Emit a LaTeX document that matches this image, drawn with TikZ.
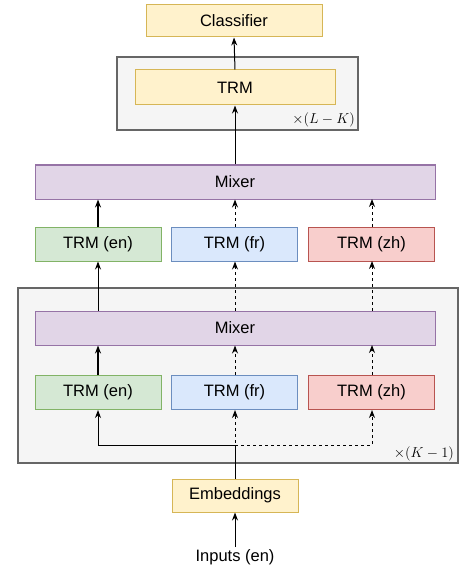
\documentclass[tikz,border=0pt]{standalone}
\usepackage{fontspec}
\setmainfont{Liberation Sans}
\usetikzlibrary{arrows.meta}
\definecolor{yelF}{HTML}{FFF2CC}\definecolor{yelD}{HTML}{D6B656}
\definecolor{grnF}{HTML}{D5E8D4}\definecolor{grnD}{HTML}{82B366}
\definecolor{bluF}{HTML}{DAE8FC}\definecolor{bluD}{HTML}{6C8EBF}
\definecolor{redF}{HTML}{F8CECC}\definecolor{redD}{HTML}{B85450}
\definecolor{purF}{HTML}{E1D5E7}\definecolor{purD}{HTML}{9673A6}
\definecolor{gryF}{HTML}{F5F5F5}\definecolor{gryD}{HTML}{666666}
\begin{document}
\begin{tikzpicture}[x=1pt,y=-1pt,
  box/.style={draw, line width=1pt, inner sep=0pt, font=\fontsize{16.5}{20}\selectfont},
  yel/.style={box, fill=yelF, draw=yelD},
  grn/.style={box, fill=grnF, draw=grnD, minimum width=126, minimum height=34},
  blu/.style={box, fill=bluF, draw=bluD, minimum width=126, minimum height=34},
  red/.style={box, fill=redF, draw=redD, minimum width=126, minimum height=34},
  mix/.style={box, fill=purF, draw=purD, minimum width=400, minimum height=34},
  container/.style={draw=gryD, fill=gryF, line width=2pt, inner sep=0pt},
  arr/.style={-{Stealth[length=8pt,width=6pt]}, line width=1pt, black},
  darr/.style={arr, dash pattern=on 3pt off 3pt},
  tarr/.style={arr, line width=2pt},
  rep/.style={font=\fontsize{15}{18}\selectfont, anchor=east, inner sep=0pt}
]
\useasboundingbox (0,0) rectangle (459,572);
% containers
\node[container, minimum width=241, minimum height=73] (top) at (237.5,93.5) {};
\node[container, minimum width=440, minimum height=175] (low) at (237.5,375.5) {};
\node[rep] (lk) at (355,120) {$\times(L-K)$};
\node[rep] (k1) at (454,454) {$\times(K-1)$};
% nodes
\node[yel, minimum width=176, minimum height=32] (cls) at (234,21) {Classifier};
\node[yel, minimum width=200, minimum height=35] (trm) at (235,87.5) {TRM};
\node[mix] (mix1) at (235,182) {Mixer};
\node[grn] (en1) at (98,244) {TRM (en)};
\node[blu] (fr1) at (234.5,244) {TRM (fr)};
\node[red] (zh1) at (371.5,244) {TRM (zh)};
\node[mix] (mix2) at (235,328) {Mixer};
\node[grn] (en2) at (98,392.5) {TRM (en)};
\node[blu] (fr2) at (234.5,392.5) {TRM (fr)};
\node[red] (zh2) at (371.5,392.5) {TRM (zh)};
\node[yel, minimum width=126, minimum height=33] (emb) at (235,495.5) {Embeddings};
\node[font=\fontsize{16.5}{20}\selectfont, inner sep=2pt] (inp) at (235,557) {Inputs (en)};
\coordinate (j) at (235,445);
% connectors
\draw[arr] (trm.north) -- (cls.south);
\draw[arr] (mix1.north -| trm.south) -- (trm.south);
\draw[tarr] (en1.north) -- (en1.north |- mix1.south);
\draw[darr] (fr1.north -| j) -- (j |- mix1.south);
\draw[darr] (zh1.north -| 372,0) -- (372,199);
\draw[arr] (mix2.north -| en1.south) -- (en1.south);
\draw[darr] (mix2.north -| j) -- (j |- fr1.south);
\draw[darr] (372,311) -- (372,261);
\draw[tarr] (en2.north) -- (en2.north |- mix2.south);
\draw[darr] (j |- fr2.north) -- (j |- mix2.south);
\draw[darr] (372,375) -- (372,345);
\draw[line width=1pt] (emb.north) -- (j);
\draw[arr] (j) -| (en2.south);
\draw[darr] (emb.north) -- (j |- fr2.south);
\draw[darr] (j) -| (372,410);
\draw[arr] (inp.north) -- (emb.south);
\end{tikzpicture}
\end{document}
